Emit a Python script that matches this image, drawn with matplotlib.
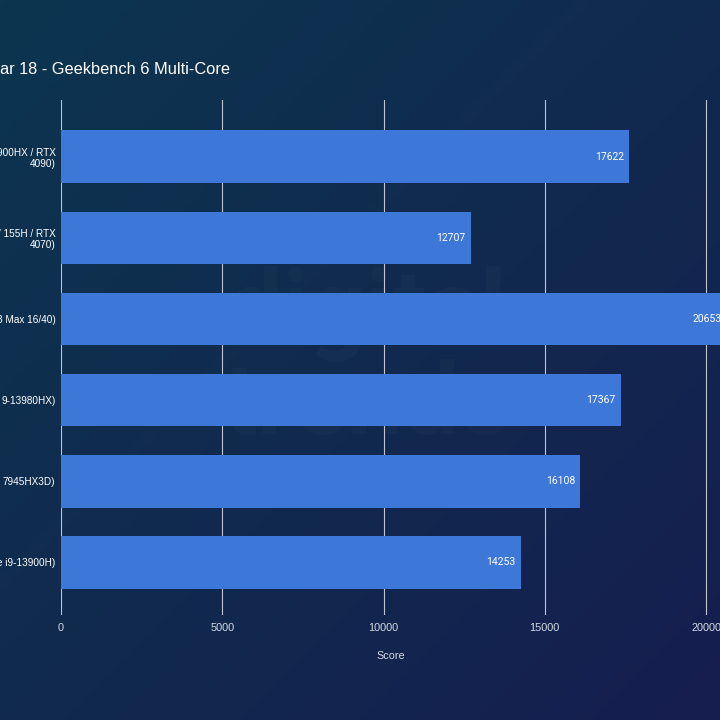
import matplotlib
matplotlib.use("Agg")
import matplotlib.pyplot as plt
import numpy as np
from matplotlib.colors import LinearSegmentedColormap

plt.rcParams['font.family'] = ['Liberation Sans', 'DejaVu Sans']

# Data (labels cropped as in the source image)
labels = ['900HX / RTX\n4090)', '\u2019 155H / RTX\n4070)', '3 Max 16/40)',
          '9-13980HX)', '7945HX3D)', 'e i9-13900H)']
scores = [17622, 12707, 20653, 17367, 16108, 14253]
ticks = [0, 5000, 10000, 15000, 20000]

fig = plt.figure(figsize=(7.2, 7.2), dpi=100)

# gradient background
bg = fig.add_axes([0, 0, 1, 1], zorder=-10)
xx, yy = np.meshgrid(np.linspace(0, 1, 200), np.linspace(0, 1, 200))
grad = (xx * 0.6 + yy * 0.6) / 1.2
cmap = LinearSegmentedColormap.from_list('bg', ['#0c3550', '#112a4e', '#161e50'])
bg.imshow(grad, cmap=cmap, aspect='auto', extent=[0, 1, 1, 0])
bg.axis('off')
bg.text(0.51, 0.50, 'digital\ntrends', color='white', alpha=0.018, fontsize=72,
        fontweight='bold', ha='center', va='center', linespacing=0.95,
        family='Roboto')

ax = fig.add_axes([61 / 720, 105 / 720, 659 / 720, 515 / 720])
ax.patch.set_alpha(0)
y = np.arange(len(scores))
ax.barh(y, scores, height=0.65, color='#3d78d9', zorder=2)
ax.set_xlim(0, 20000 + 14 / 161.25 * 5000)
ax.set_ylim(len(scores) - 0.35, -0.7)

for yi, s in zip(y, scores):
    ax.text(s - 170, yi, str(s), ha='right', va='center', color='white',
            fontsize=7.5, zorder=3, family='Roboto')

ax.set_xticks(ticks)
ax.set_xticklabels([str(t) for t in ticks], color='#d5dbe3', fontsize=7.8)
ax.set_yticks(y)
ax.set_yticklabels(labels, color='white', fontsize=7.2, ha='right')
ax.tick_params(axis='x', length=0, pad=6)
ax.tick_params(axis='y', length=0, pad=4)
ax.grid(axis='x', color='#bfc5ce', linewidth=0.8, zorder=1)
for sp in ax.spines.values():
    sp.set_visible(False)
ax.set_xlabel('Score', color='#d5dbe3', fontsize=7.8, labelpad=13)

fig.text(0.0, 1 - 70 / 720, 'ar 18 - Geekbench 6 Multi-Core', color='white',
         fontsize=11.8, va='center', ha='left')

fig.savefig('out.png', dpi=100)
